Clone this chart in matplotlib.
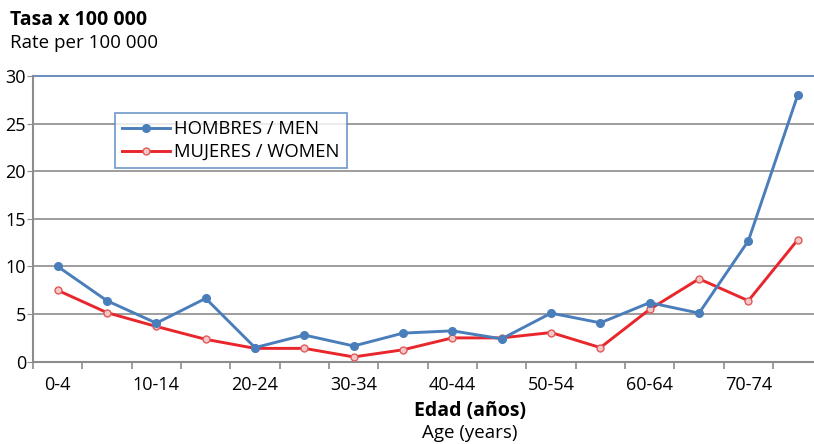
import numpy as np
import matplotlib.pyplot as plt
from matplotlib.ticker import FixedLocator

plt.rcParams['font.family'] = ['Open Sans', 'DejaVu Sans']

# Data
age_groups = ['0-4', '5-9', '10-14', '15-19', '20-24', '25-29', '30-34', '35-39',
              '40-44', '45-49', '50-54', '55-59', '60-64', '65-69', '70-74', '75-79']
men = [10.0, 6.4, 4.05, 6.65, 1.48, 2.8, 1.65, 3.0,
       3.24, 2.4, 5.1, 4.08, 6.2, 5.1, 12.7, 28.0]
women = [7.5, 5.15, 3.7, 2.35, 1.4, 1.4, 0.5, 1.25,
         2.5, 2.5, 3.06, 1.48, 5.5, 8.7, 6.4, 12.8]
yticks = [0, 5, 10, 15, 20, 25, 30]

blue = '#4a7ebb'
red = '#e8262b'
grid_c = '#8c8c8c'

fig = plt.figure(figsize=(8.14, 4.44), dpi=100)
ax = fig.add_axes([33 / 814, 1 - 361.7 / 444, 1 - 33 / 814, (361.7 - 76) / 444])

x = np.arange(len(age_groups))
ax.plot(x, men, color=blue, lw=2.1, marker='o', ms=5.5, mfc=blue, mec=blue,
        label='HOMBRES / MEN', clip_on=False, zorder=4)
ax.plot(x, women, color=red, lw=2.1, marker='o', ms=5, mfc='#f6c7c7', mec='#e05a5a',
        mew=1, label='MUJERES / WOMEN', clip_on=False, zorder=3)

ax.set_ylim(0, 30)
ax.set_xlim(-0.5, 15.33)

# horizontal gridlines
for v in yticks[1:-1]:
    ax.axhline(v, color=grid_c, lw=1.2, zorder=1)
ax.axhline(30, color='#6f8fbf', lw=1.5, zorder=1, clip_on=False)

for s in ['top', 'right']:
    ax.spines[s].set_visible(False)
ax.spines['left'].set_color(grid_c)
ax.spines['left'].set_linewidth(1.5)
ax.spines['bottom'].set_color(grid_c)
ax.spines['bottom'].set_linewidth(1.5)

ax.set_yticks(yticks)
ax.set_yticklabels([str(v) for v in yticks], fontsize=13)
ax.tick_params(axis='y', length=4, color=grid_c, pad=1)

# tick marks between categories, labels on every other category
ax.xaxis.set_major_locator(FixedLocator(np.arange(-0.5, 16, 1)))
ax.set_xticklabels([])
ax.set_xticks(x[::2], minor=True)
ax.set_xticklabels(age_groups[::2], minor=True, fontsize=13)
ax.tick_params(axis='x', which='major', length=5, color=grid_c, width=1.2)
ax.tick_params(axis='x', which='minor', length=0, pad=10)

leg = ax.legend(loc='upper left', bbox_to_anchor=(115 / 814, 1 - 113 / 444),
                bbox_transform=fig.transFigure, fontsize=13.3, frameon=True,
                fancybox=False, handlelength=2.6, borderpad=0.4, labelspacing=0.25,
                handletextpad=0.2, borderaxespad=0)
leg.get_frame().set_edgecolor(blue)
leg.get_frame().set_linewidth(1.2)

fig.text(10 / 814, 1 - 20 / 444, 'Tasa x 100 000', fontsize=14, fontweight='bold', va='center')
fig.text(10 / 814, 1 - 43 / 444, 'Rate per 100 000', fontsize=13.5, va='center')
fig.text(470 / 814, 1 - 411 / 444, 'Edad (años)', fontsize=14, fontweight='bold',
         ha='center', va='center')
fig.text(470 / 814, 1 - 433 / 444, 'Age (years)', fontsize=13.5, ha='center', va='center')

fig.savefig('out.png', dpi=100)
